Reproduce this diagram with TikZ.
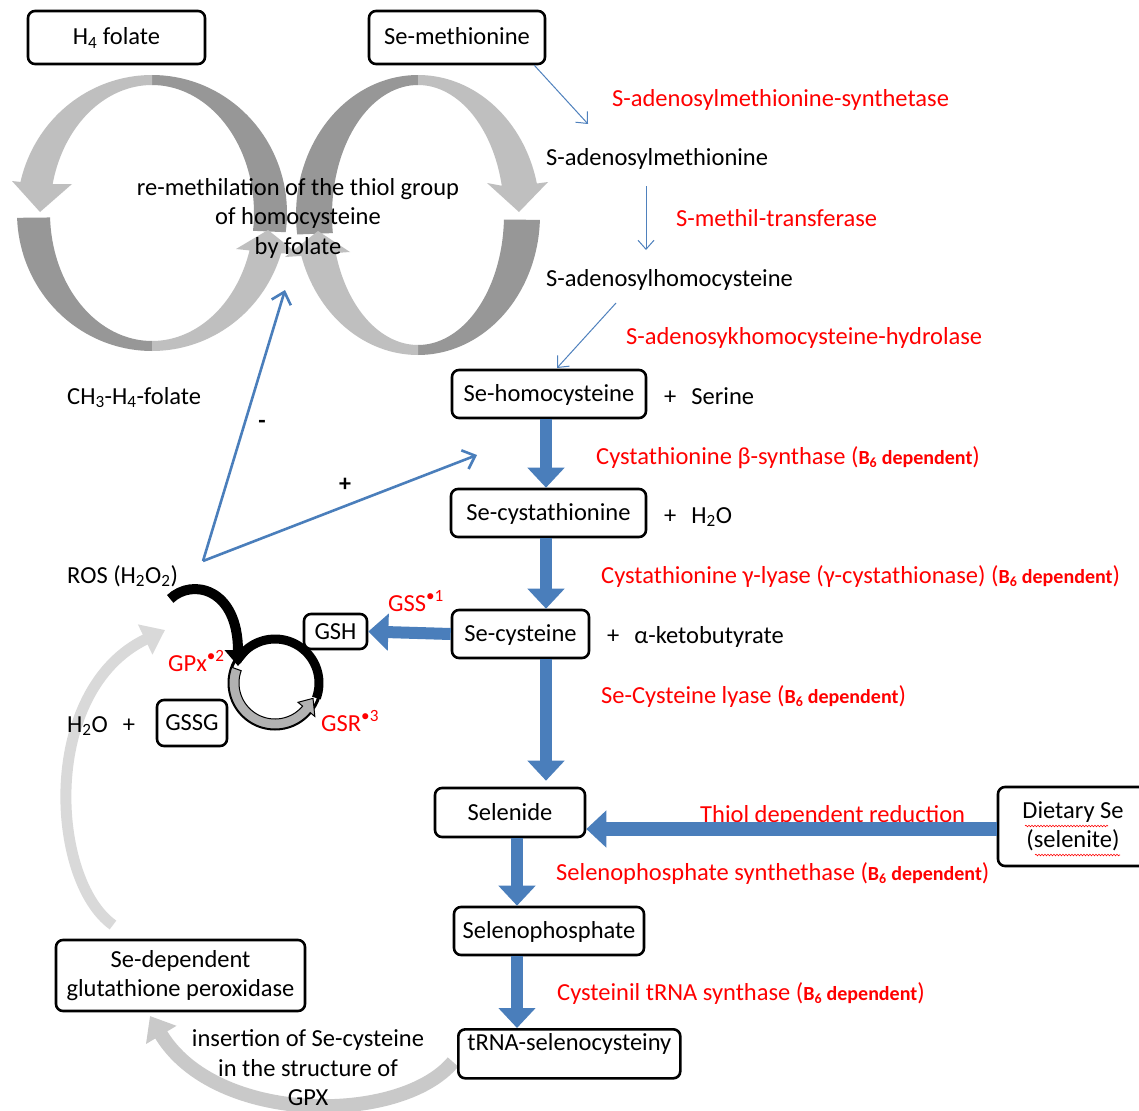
\documentclass[tikz,border=0pt]{standalone}
\usepackage{fontspec}
\setmainfont{Carlito}
\usetikzlibrary{arrows.meta,decorations.pathmorphing,calc}
\definecolor{blkblue}{HTML}{4A7EBB}
\definecolor{thinblue}{HTML}{4F81BD}
\definecolor{ringlt}{HTML}{BFBFBF}
\definecolor{ringdk}{HTML}{979797}
\definecolor{enzred}{HTML}{FF0000}
\newcommand\bsixdep{{\fontsize{20}{22}\selectfont\bfseries B\textsubscript{6} dependent}}
\begin{document}
\begin{tikzpicture}[x=1pt,y=-1pt,
  every node/.style={font=\fontsize{24.5}{29.5}\selectfont},
  box/.style={draw, line width=2.6pt, rounded corners=7pt, inner sep=0pt, align=center},
  one/.style={text height=17pt, text depth=2pt},
  lbl/.style={inner sep=0pt, anchor=base west, yshift=-2pt},
  enzlbl/.style={lbl, text=enzred},
  blockarr/.style={draw=blkblue, line width=12pt, -{Triangle[width=36pt,length=20pt]}},
  thinarr/.style={draw=thinblue, line width=1pt, -{Straight Barb[length=9pt,width=16pt]}},
  medarr/.style={draw=blkblue, line width=2.6pt, -{Straight Barb[length=11pt,width=20pt]}},
  squig/.style={draw=enzred, line width=0.6pt, decorate, decoration={snake, amplitude=0.8pt, segment length=3pt}},
  sign/.style={font=\bfseries\fontsize{24}{24}\selectfont, inner sep=0pt}
]
\fill[white] (0,0) rectangle (1139,1110);
\useasboundingbox (0,0) rectangle (1139,1110);

% ---------- folate rings ----------
% left ring, top arc
\fill[ringdk] plot[domain=8:-90,samples=40] ({152+135*cos(\x)},{213+138*sin(\x)}) -- plot[domain=-90:8,samples=40] ({152+102*cos(\x)},{213+128*sin(\x)}) -- cycle;
\fill[ringlt] plot[domain=-90:-167,samples=40] ({152+135*cos(\x)},{213+138*sin(\x)}) -- (12,181) -- (40,212) -- (72,184) -- plot[domain=-167:-90,samples=40] ({152+102*cos(\x)},{213+128*sin(\x)}) -- cycle;
% right ring, top arc
\fill[ringdk] plot[domain=172:270,samples=40] ({418+122*cos(\x)},{215+140*sin(\x)}) -- plot[domain=270:172,samples=40] ({418+86*cos(\x)},{215+130*sin(\x)}) -- cycle;
\fill[ringlt] plot[domain=270:347,samples=40] ({418+122*cos(\x)},{215+140*sin(\x)}) -- (548,182) -- (519,212) -- (487,183) -- plot[domain=347:270,samples=40] ({418+86*cos(\x)},{215+130*sin(\x)}) -- cycle;
% left ring, bottom arc
\fill[ringdk] plot[domain=178:90,samples=40] ({152+135*cos(\x)},{213+138*sin(\x)}) -- plot[domain=90:178,samples=40] ({152+102*cos(\x)},{213+128*sin(\x)}) -- cycle;
\fill[ringlt] plot[domain=90:17,samples=40] ({152+135*cos(\x)},{213+138*sin(\x)}) -- (298,254) -- (268,230) -- (236,249) -- plot[domain=17:90,samples=40] ({152+102*cos(\x)},{213+128*sin(\x)}) -- cycle;
% right ring, bottom arc
\fill[ringdk] plot[domain=2:90,samples=40] ({418+122*cos(\x)},{215+140*sin(\x)}) -- plot[domain=90:2,samples=40] ({418+86*cos(\x)},{215+130*sin(\x)}) -- cycle;
\fill[ringlt] plot[domain=90:163,samples=40] ({418+122*cos(\x)},{215+140*sin(\x)}) -- (285,257) -- (318,231) -- (350,252) -- plot[domain=163:90,samples=40] ({418+86*cos(\x)},{215+130*sin(\x)}) -- cycle;

% ---------- coordinates ----------
\coordinate (samin) at (588,124);
\coordinate (samout) at (646,186);
\coordinate (sahin) at (646,250);
\coordinate (sahout) at (616,303);
\coordinate (hcyin) at (557,368);
\coordinate (rosout) at (203,561);
\coordinate (folin) at (285,290);
\coordinate (hcyact) at (477,455);
\coordinate (colA) at (546,0);
\coordinate (colB) at (517,0);
\coordinate (rowD) at (0,829);
\coordinate (gpxtail) at (113,925);
\coordinate (gpxhead) at (165,630);
\coordinate (trnatail) at (453,1062);
\coordinate (gpxboxin) at (150,1016);

% ---------- gray curved arrows (behind text) ----------
\draw[draw=gray!30, line width=11pt, -{Triangle[width=32pt,length=22pt]}] (gpxtail) .. controls (50,880) and (40,690) .. (gpxhead);
\draw[draw=gray!42, line width=14pt, -{Triangle[width=34pt,length=22pt]}] (trnatail) .. controls (400,1125) and (215,1125) .. (gpxboxin);

% ---------- boxes ----------
\node[box,one,minimum width=177pt,minimum height=53pt] (h4) at (116.5,37.5) {H\textsubscript{4} folate};
\node[box,one,minimum width=176pt,minimum height=53pt] (semet) at (457,37.5) {Se-methionine};
\node[box,one,minimum width=194pt,minimum height=48pt] (sehcy) at (549,394) {Se-homocysteine};
\node[box,one,minimum width=195pt,minimum height=48pt] (secysta) at (548.5,513) {Se-cystathionine};
\node[box,one,minimum width=137pt,minimum height=48pt] (secys) at (520.5,634) {Se-cysteine};
\node[box,one,minimum width=63pt,minimum height=35pt] (gsh) at (335.5,631.5) {GSH};
\node[box,one,minimum width=70pt,minimum height=46pt] (gssg) at (192,723) {GSSG};
\node[box,one,minimum width=150pt,minimum height=49pt] (selenide) at (510,812.5) {Selenide};
\node[box,minimum width=150pt,minimum height=79pt] (diet) at (1073,826.5) {Dietary Se\\(selenite)};
\node[box,one,minimum width=190pt,minimum height=48pt] (sephos) at (549,931) {Selenophosphate};
\node[box,inner sep=2pt,text height=19.5pt,text depth=25.5pt,minimum width=222pt,anchor=north west] (trna) at (457,1028) {tRNA-selenocysteiny};
\node[box,minimum width=249pt,minimum height=71pt] (gpxbox) at (180.5,975.5) {Se-dependent\\glutathione peroxidase};

% ---------- plain labels ----------
\node[lbl] (sam) at (546,164) {S-adenosylmethionine};
\node[lbl] (sah) at (546,284) {S-adenosylhomocysteine};
\node[lbl] (serine) at (664,402) {+\hspace{15pt}Serine};
\node[lbl] (water1) at (664,521) {+\hspace{15pt}H\textsubscript{2}O};
\node[lbl] (keto) at (607,641) {+\hspace{15pt}α-ketobutyrate};
\node[lbl] (ch3) at (67,402) {CH\textsubscript{3}-H\textsubscript{4}-folate};
\node[lbl] (ros) at (67,581) {ROS (H\textsubscript{2}O\textsubscript{2})};
\node[lbl] (water2) at (67,730) {H\textsubscript{2}O\hspace{15pt}+};
\node[align=center,inner sep=0pt] (remeth) at (298,218) {re-methilation of the thiol group\\of homocysteine\\by folate};
\node[align=center,inner sep=0pt] (insert) at (308,1068) {insertion of Se-cysteine\\in the structure of\\GPX};

% ---------- enzyme labels ----------
\node[enzlbl] (e1) at (612,105) {S-adenosylmethionine-synthetase};
\node[enzlbl] (e2) at (676,224) {S-methil-transferase};
\node[enzlbl] (e3) at (626,342) {S-adenosykhomocysteine-hydrolase};
\node[enzlbl] (e4) at (596,462) {Cystathionine β-synthase (\bsixdep)};
\node[enzlbl] (e5) at (601,581) {Cystathionine γ-lyase (γ-cystathionase) (\bsixdep)};
\node[enzlbl] (e6) at (601,701) {Se-Cysteine lyase (\bsixdep)};
\node[enzlbl] (e7) at (700,820) {Thiol dependent reduction};
\node[enzlbl] (e8) at (556,878) {Selenophosphate synthethase (\bsixdep)};
\node[enzlbl] (e9) at (557,998) {Cysteinil tRNA synthase (\bsixdep)};
\node[enzlbl] (gss) at (388,609) {GSS\textsuperscript{•1}};
\node[enzlbl] (gpx) at (168,669) {GPx\textsuperscript{•2}};
\node[enzlbl] (gsr) at (321,729) {GSR\textsuperscript{•3}};

% spell-check squiggles
\draw[squig] (769,825) -- (964,825);
\draw[squig] (1025,826) -- (1108,826);
\draw[squig] (1035,855) -- (1120,855);

% ---------- thin / medium arrows ----------
\draw[thinarr] ($(semet.south east)+(-12,0)$) -- (samin);
\draw[thinarr] (samout) -- (sahin);
\draw[thinarr] (sahout) -- (hcyin);
\draw[medarr] (rosout) -- (folin);
\draw[medarr] (rosout) -- (hcyact);
\node[sign] at (262,424) {-};
\node[sign] at (345,485) {+};

% ---------- block arrows ----------
\draw[blockarr] (sehcy.south -| colA) -- (secysta.north -| colA);
\draw[blockarr] (secysta.south -| colA) -- (secys.north -| colA);
\draw[blockarr] (secys.south -| colA) -- ($(selenide.north -| colA)+(0,-6)$);
\draw[blockarr] (secys.west) -- (gsh.east);
\draw[blockarr, line width=14pt] (diet.west |- rowD) -- (selenide.east |- rowD);
\draw[blockarr] (selenide.south -| colB) -- (sephos.north -| colB);
\draw[blockarr] (sephos.south -| colB) -- (trna.north -| colB);

% ---------- glutathione cycle ----------
\draw[line width=3pt] (275,683) circle[radius=46pt];
\draw[line width=9pt] plot[domain=-150:20,samples=40] ({275+44*cos(\x)},{683+44*sin(\x)});
\filldraw[fill=gray!60, draw=black, line width=1pt]
  plot[domain=200:40,samples=40] ({275+46*cos(\x)},{683+46*sin(\x)})
  -- ({275+52*cos(40)},{683+52*sin(40)}) -- ({275+41*cos(22)},{683+41*sin(22)}) -- ({275+30*cos(40)},{683+30*sin(40)})
  -- plot[domain=40:200,samples=40] ({275+36*cos(\x)},{683+36*sin(\x)}) -- cycle;
\draw[line width=10pt, -{Triangle[width=26pt,length=16pt]}] (ros.south east) ++(-8,12) .. controls (192,578) and (238,588) .. (238,666);
\end{tikzpicture}
\end{document}
